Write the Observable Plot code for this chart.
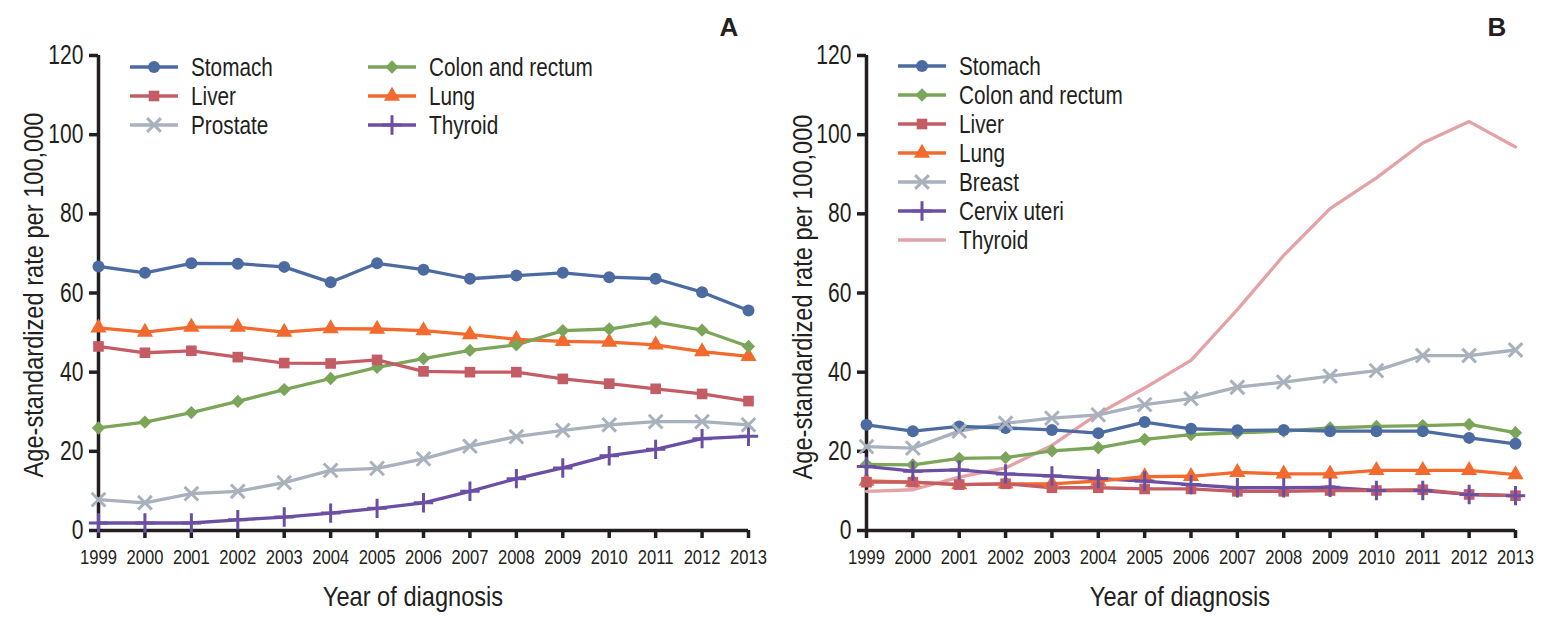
<!DOCTYPE html>
<html><head><meta charset="utf-8">
<script src="https://cdn.jsdelivr.net/npm/d3@7"></script>
<script src="https://cdn.jsdelivr.net/npm/@observablehq/plot@0.6"></script>
<style>
body{margin:0;background:#fff;}
#wrap{display:flex;width:1559px;height:626px;overflow:hidden;}
svg{font-family:"Liberation Sans",Arial,sans-serif;}
</style></head><body><div id="wrap"></div>
<script>
const years = [1999,2000,2001,2002,2003,2004,2005,2006,2007,2008,2009,2010,2011,2012,2013];
const yTicks = [0,20,40,60,80,100,120];

// Panel A
const seriesA = ["Stomach","Liver","Prostate","Colon and rectum","Lung","Thyroid"];
const colorsA = ["#4b6ba1","#c45c66","#a8b1bc","#7ba558","#f26a2e","#6b4fa2"];
const symbolsA = ["circle","square","times","diamond2","triangle","plus"];
const stomachA  = [66.7,65.1,67.5,67.4,66.6,62.7,67.5,65.9,63.6,64.4,65.1,64.0,63.6,60.2,55.6];
const liverA    = [46.5,44.9,45.4,43.8,42.3,42.2,43.1,40.2,40.0,40.0,38.3,37.1,35.8,34.5,32.7];
const prostateA = [7.8,7.0,9.3,9.9,12.1,15.2,15.7,18.1,21.3,23.7,25.3,26.7,27.5,27.5,26.7];
const colonA    = [25.9,27.4,29.8,32.6,35.6,38.4,41.2,43.4,45.5,46.9,50.5,50.9,52.7,50.6,46.5];
const lungA     = [51.2,50.1,51.4,51.4,50.1,51.0,50.9,50.5,49.5,48.3,47.8,47.6,46.9,45.2,44.0];
const thyroidA  = [1.9,1.9,1.9,2.7,3.4,4.4,5.6,7.0,9.9,13.1,15.8,18.9,20.5,23.2,23.8];
const valuesA = [stomachA, liverA, prostateA, colonA, lungA, thyroidA];

// Panel B
const seriesB = ["Stomach","Colon and rectum","Liver","Lung","Breast","Cervix uteri","Thyroid"];
const colorsB = ["#4b6ba1","#7ba558","#c45c66","#f26a2e","#a8b1bc","#6b4fa2","#e3a3a6"];
const symbolsB = ["circle","diamond2","square","triangle","times","plus",null];
const stomachB = [26.7,25.1,26.3,25.9,25.4,24.6,27.4,25.7,25.3,25.4,25.1,25.1,25.1,23.4,21.9];
const colonB   = [16.7,16.6,18.2,18.4,20.1,20.9,23.0,24.2,24.7,25.1,25.9,26.3,26.5,26.8,24.7];
const liverB   = [12.2,12.2,11.6,11.8,10.8,10.8,10.5,10.5,9.9,9.9,10.1,10.1,10.3,9.1,8.8];
const lungB    = [12.5,12.2,11.6,11.8,11.8,12.5,13.6,13.7,14.7,14.3,14.3,15.2,15.2,15.2,14.1];
const breastB  = [21.2,20.8,25.1,27.1,28.4,29.2,31.8,33.3,36.2,37.5,39.0,40.4,44.2,44.2,45.6];
const cervixB  = [16.2,15.0,15.3,14.3,13.8,13.1,12.5,11.6,10.8,10.8,10.9,10.1,10.1,9.1,8.8];
const thyroidB = [9.9,10.3,13.5,15.8,21.5,29.5,36.0,43.0,55.8,69.5,81.3,89.1,97.9,103.3,96.9];
const valuesB = [stomachB, colonB, liverB, lungB, breastB, cervixB, thyroidB];

const INK = "#231f20";
const FILLED = new Set(["circle","square","diamond2","triangle"]);

function squeeze(sel, k) {
  sel.each(function() {
    const t = this.getAttribute("transform") || "";
    this.setAttribute("transform", (t + ` scale(${k},1)`).trim());
  });
}
function moveCenter(svgEl, sel, cx, cy) {
  const node = sel.node();
  if (!node) return;
  const sr = svgEl.getBoundingClientRect();
  const r = node.getBoundingClientRect();
  const dx = cx - (r.left - sr.left + r.width / 2);
  const dy = cy - (r.top - sr.top + r.height / 2);
  const t = node.getAttribute("transform") || "";
  node.setAttribute("transform", `translate(${dx},${dy}) ${t}`.trim());
}

function makePanel({series, colors, symbols, values, width, marginLeft, marginRight, letter, legend, xLabelPos, yLabelPos}) {
  const data = [];
  for (let i = series.length - 1; i >= 0; i--) {
    values[i].forEach((v, j) => data.push({series: series[i], year: years[j], value: v, sym: symbols[i]}));
  }
  const filled = data.filter(d => d.sym && FILLED.has(d.sym));
  const stroked = data.filter(d => d.sym && !FILLED.has(d.sym));
  const symSeries = series.filter((s, i) => symbols[i]);
  const symRange = symbols.filter(s => s);
  const chart = Plot.plot({
    width, height: 626,
    marginTop: 55, marginBottom: 96, marginLeft, marginRight,
    style: {fontFamily: '"Liberation Sans",Arial,sans-serif', color: INK, background: "white", overflow: "visible"},
    x: {domain: [1999, 2013]},
    y: {domain: [0, 120]},
    color: {domain: series, range: colors},
    symbol: {domain: symSeries, range: symRange},
    marks: [
      Plot.axisX({ticks: years, tickFormat: d => String(d), tickSize: 8, tickPadding: 11, strokeWidth: 3.5, stroke: INK, fontSize: 21,
                  label: "Year of diagnosis", labelAnchor: "center", labelOffset: 62, labelArrow: "none"}),
      Plot.axisY({ticks: yTicks, tickSize: 9, tickPadding: 6, strokeWidth: 3.5, stroke: INK, fontSize: 27,
                  label: "Age-standardized rate per 100,000", labelAnchor: "center", labelOffset: 78, labelArrow: "none"}),
      Plot.ruleY([0], {stroke: INK, strokeWidth: 3.5}),
      Plot.ruleX([1999], {stroke: INK, strokeWidth: 3.5}),
      Plot.line(data, {x: "year", y: "value", z: "series", stroke: "series", strokeWidth: 3.3}),
      Plot.dot(filled, {x: "year", y: "value", symbol: "sym", fill: "series", r: 6, stroke: "none"}),
      Plot.dot(stroked, {x: "year", y: "value", symbol: "sym", stroke: "series", r: 6.3, strokeWidth: 3})
    ]
  });
  chart.setAttribute("width", width);
  chart.setAttribute("height", 626);
  document.getElementById("wrap").appendChild(chart);
  const svg = d3.select(chart);
  const xt = svg.selectAll('[aria-label="x-axis tick label"] text').attr("font-size", 21);
  const yt = svg.selectAll('[aria-label="y-axis tick label"] text').attr("font-size", 27);
  const xl = svg.selectAll('[aria-label="x-axis label"] text').attr("font-size", 27);
  const yl = svg.selectAll('[aria-label="y-axis label"] text').attr("font-size", 27);
  squeeze(xt, 0.79);
  squeeze(yt, 0.78);
  squeeze(xl, 0.875);
  squeeze(yl, 0.875);
  moveCenter(chart, svg.select('[aria-label="x-axis label"] text'), xLabelPos[0], xLabelPos[1]);
  moveCenter(chart, svg.select('[aria-label="y-axis label"] text'), yLabelPos[0], yLabelPos[1]);

  // panel letter
  svg.append("text").attr("x", letter.x).attr("y", 36).attr("text-anchor", "middle")
    .attr("font-size", 26).attr("font-weight", "bold").attr("fill", INK).text(letter.t);

  // legend
  const lg = svg.append("g").attr("aria-label", "legend");
  const map = {circle: d3.symbolCircle, square: d3.symbolSquare, times: d3.symbolTimes, diamond2: d3.symbolDiamond2, triangle: d3.symbolTriangle, plus: d3.symbolPlus};
  legend.items.forEach(({name, col, row}) => {
    const i = series.indexOf(name);
    const x0 = legend.cols[col], y0 = legend.top + row * legend.step;
    const g = lg.append("g").attr("transform", `translate(${x0},${y0})`);
    g.append("line").attr("x1", 0).attr("x2", 48).attr("stroke", colors[i]).attr("stroke-width", 3.3);
    const sym = symbols[i];
    if (sym) {
      const r = FILLED.has(sym) ? 6 : 6.3;
      const path = d3.symbol(map[sym], Math.PI * r * r)();
      const p = g.append("path").attr("d", path).attr("transform", "translate(24,0)");
      if (FILLED.has(sym)) p.attr("fill", colors[i]);
      else p.attr("fill", "none").attr("stroke", colors[i]).attr("stroke-width", 3);
    }
    g.append("text").attr("transform", `translate(${legend.textDx},0) scale(0.83,1)`)
      .attr("text-anchor", "start").attr("dy", "0.36em").attr("font-size", 25).attr("fill", INK).text(name);
  });
  return chart;
}

makePanel({
  series: seriesA, colors: colorsA, symbols: symbolsA, values: valuesA,
  width: 775, marginLeft: 98, marginRight: 27,
  letter: {x: 729, t: "A"},
  xLabelPos: [413, 596], yLabelPos: [33, 295],
  legend: {cols: [130, 368], top: 67, step: 29, textDx: 61,
    items: [{name: "Stomach", col: 0, row: 0}, {name: "Liver", col: 0, row: 1}, {name: "Prostate", col: 0, row: 2},
            {name: "Colon and rectum", col: 1, row: 0}, {name: "Lung", col: 1, row: 1}, {name: "Thyroid", col: 1, row: 2}]}
});
makePanel({
  series: seriesB, colors: colorsB, symbols: symbolsB, values: valuesB,
  width: 784, marginLeft: 91, marginRight: 44,
  letter: {x: 722, t: "B"},
  xLabelPos: [405, 596], yLabelPos: [27, 297],
  legend: {cols: [123], top: 66, step: 29, textDx: 61,
    items: seriesB.map((s, i) => ({name: s, col: 0, row: i}))}
});
</script></body></html>
